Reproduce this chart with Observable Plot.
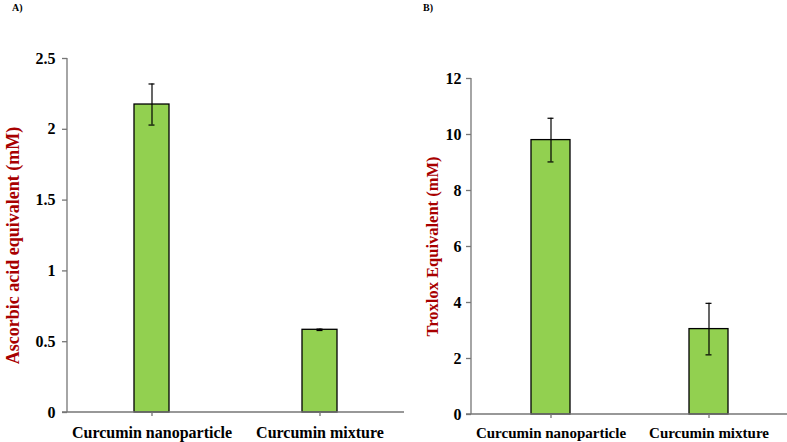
<!DOCTYPE html>
<html>
<head>
<meta charset="utf-8">
<script src="https://cdn.jsdelivr.net/npm/d3@7"></script>
<script src="https://cdn.jsdelivr.net/npm/@observablehq/plot@0.6"></script>
<style>
  body { margin: 0; background: #fff; }
  #wrap { position: relative; width: 787px; height: 442px; overflow: hidden; background: #fff; }
  .panel { position: absolute; top: 0; }
  .tag { position: absolute; font-family: "Liberation Serif", serif; font-weight: bold; font-size: 10px; color: #000; }
</style>
</head>
<body>
<div id="wrap">
  <div class="tag" style="left:12px; top:2px;">A)</div>
  <div class="tag" style="left:423px; top:2px;">B)</div>
  <div id="pa" class="panel" style="left:0px;"></div>
  <div id="pb" class="panel" style="left:410px;"></div>
</div>
<script>
const categories = ["Curcumin nanoparticle", "Curcumin mixture"];
const ascorbicValues = [2.175, 0.584];
const ascorbicErrors = [0.145, 0.005];
const troloxValues = [9.8, 3.05];
const troloxErrors = [0.78, 0.92];
const ascorbicTicks = [0, 0.5, 1, 1.5, 2, 2.5];
const troloxTicks = [0, 2, 4, 6, 8, 10, 12];
const labelA = "Ascorbic acid equivalent (mM)";
const labelB = "Troxlox Equivalent (mM)";

const FONT = "'Liberation Serif', 'Times New Roman', serif";
const AXIS = "#767676";
const RED = "#A80000";
const GREEN = "#92D050";

// axis lines drawn from the plot's own frame dimensions and y scale
function axisLines(index, scales, values, dims) {
  const g = d3.create("svg:g").attr("stroke", AXIS).attr("stroke-width", 1.3);
  const x0 = dims.marginLeft, x1 = dims.width - dims.marginRight;
  const y0 = dims.marginTop, y1 = dims.height - dims.marginBottom;
  const yb = scales.y(0);
  g.append("line").attr("x1", x0 - 5).attr("x2", x1).attr("y1", yb).attr("y2", yb);
  g.append("line").attr("x1", x0).attr("x2", x0).attr("y1", y0).attr("y2", y1);
  return g.node();
}

function panel({values, errors, ticks, domain, label, width, mL, mR, mT, mB, pInner, capInset,
                labelDx, labelDy, labelSize, tickPad, catSize, catPad}) {
  const data = categories.map((c, i) => ({cat: c, val: values[i], err: errors[i]}));
  return Plot.plot({
    width, height: 442,
    marginLeft: mL, marginRight: mR, marginTop: mT, marginBottom: mB,
    style: {fontFamily: FONT, background: "transparent", overflow: "visible"},
    x: {type: "band", domain: categories, paddingInner: pInner, paddingOuter: pInner / 2},
    y: {domain},
    marks: [
      Plot.barY(data, {x: "cat", y: "val", fill: GREEN, stroke: "#000", strokeWidth: 1.3}),
      Plot.ruleX(data, {x: "cat", y1: d => d.val - d.err, y2: d => d.val + d.err, stroke: "#000", strokeWidth: 1.2}),
      Plot.tickY(data, {x: "cat", y: d => d.val + d.err, stroke: "#000", strokeWidth: 1.2, insetLeft: capInset, insetRight: capInset}),
      Plot.tickY(data, {x: "cat", y: d => d.val - d.err, stroke: "#000", strokeWidth: 1.2, insetLeft: capInset, insetRight: capInset}),
      Plot.axisY({ticks, tickFormat: d => String(d), tickSize: 5, tickPadding: tickPad, stroke: AXIS, fill: "#000",
        fontSize: 16, fontWeight: "bold", label: null, strokeWidth: 1.3}),
      Plot.axisX({tickSize: 4, tickPadding: catPad, stroke: AXIS, fill: "#000", fontSize: catSize, fontWeight: "bold", label: null, strokeWidth: 1.3}),
      axisLines,
      Plot.text([label], {frameAnchor: "left", textAnchor: "middle", rotate: -90, dx: labelDx, dy: labelDy, fill: RED,
        fontSize: labelSize, fontWeight: "bold", fontFamily: FONT})
    ]
  });
}

document.getElementById("pa").appendChild(panel({
  values: ascorbicValues, errors: ascorbicErrors, ticks: ascorbicTicks, domain: [0, 2.5],
  label: labelA, width: 410, mL: 67, mR: 6, mT: 58, mB: 30, pInner: 0.792, capInset: 14.5,
  labelDx: -54, labelDy: 10, labelSize: 18, tickPad: 7, catSize: 16, catPad: 10
}));
document.getElementById("pb").appendChild(panel({
  values: troloxValues, errors: troloxErrors, ticks: troloxTicks, domain: [0, 12],
  label: labelB, width: 377, mL: 61, mR: 0, mT: 78, mB: 28, pInner: 0.755, capInset: 16.5,
  labelDx: -39, labelDy: 0, labelSize: 16.5, tickPad: 5, catSize: 15, catPad: 9
}));
</script>
</body>
</html>
